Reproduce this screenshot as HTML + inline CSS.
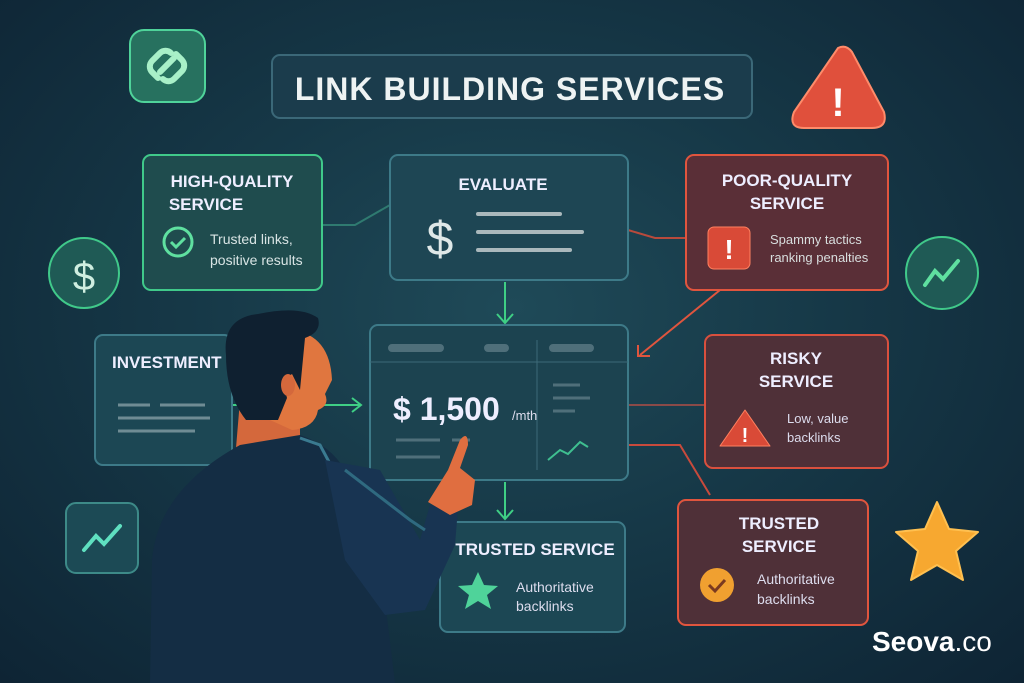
<!DOCTYPE html>
<html><head><meta charset="utf-8"><style>
html,body{margin:0;padding:0}
body{width:1024px;height:683px;overflow:hidden;background:radial-gradient(ellipse at 50% 45%,#1f4a58 0%,#163847 45%,#0e2434 100%);font-family:"Liberation Sans",sans-serif}
svg{position:absolute;left:0;top:0}
text{font-family:"Liberation Sans",sans-serif}
</style></head><body>
<svg width="1024" height="683" viewBox="0 0 1024 683">
<g fill="none" stroke-width="2">
<path d="M322 225 L355 225 L390 205" stroke="#2f7a70"/>
<path d="M628 230 L655 238 L686 238" stroke="#b84a3c"/>
<path d="M505 282 L505 322" stroke="#3fcf85"/><path d="M497 314 L505 323 L513 314" stroke="#3fcf85"/>
<path d="M232 405 L360 405" stroke="#3fcf85"/><path d="M352 398 L361 405 L352 412" stroke="#3fcf85"/>
<path d="M720 290 L640 355" stroke="#e0553e"/><path d="M638 345 L638 356 L650 356" stroke="#e0553e"/>
<path d="M628 405 L705 405" stroke="#8a4a48"/>
<path d="M628 445 L680 445 L710 495" stroke="#c84a3c"/>
<path d="M505 482 L505 518" stroke="#3fcf85"/><path d="M497 510 L505 519 L513 510" stroke="#3fcf85"/>
</g>
<rect x="130" y="30" width="75" height="72" rx="14" fill="#27715f" stroke="#4fd39a" stroke-width="2"/>
<g fill="none" stroke="#a8f0c8" stroke-width="6" stroke-linecap="round"><path d="M158 78 l-6 -6 a8 8 0 0 1 0-11 l8-8 a8 8 0 0 1 11 0"/><path d="M176 54 l6 6 a8 8 0 0 1 0 11 l-8 8 a8 8 0 0 1 -11 0"/><path d="M160 72 l14 -14"/></g>
<rect x="272" y="55" width="480" height="63" rx="8" fill="#1b3c4c" stroke="#3b6878" stroke-width="2"/>
<text x="510" y="100" font-size="32" font-weight="bold" fill="#eef3f3" text-anchor="middle" letter-spacing="1">LINK BUILDING SERVICES</text>
<path d="M838 48 Q846 44 852 52 L884 112 Q888 128 872 128 L804 128 Q788 128 794 112 Z" fill="#e0503c" stroke="#ff8b6a" stroke-width="2"/>
<text x="838" y="116" font-size="40" font-weight="bold" fill="#fff" text-anchor="middle">!</text>
<rect x="143" y="155" width="179" height="135" rx="8" fill="#1f4c4e" stroke="#40c98a" stroke-width="2"/>
<text x="232" y="187" font-size="17" font-weight="bold" fill="#eef" text-anchor="middle">HIGH-QUALITY</text>
<text x="206" y="210" font-size="17" font-weight="bold" fill="#eef" text-anchor="middle">SERVICE</text>
<circle cx="178" cy="242" r="14" fill="none" stroke="#5fe0a0" stroke-width="3"/>
<path d="M171 242 l5 5 l9-9" fill="none" stroke="#5fe0a0" stroke-width="3"/>
<text x="210" y="244" font-size="14" fill="#d8e4e4">Trusted links,</text>
<text x="210" y="265" font-size="14" fill="#d8e4e4">positive results</text>
<rect x="390" y="155" width="238" height="125" rx="8" fill="#1e4654" stroke="#3d7a88" stroke-width="2"/>
<text x="503" y="190" font-size="17" font-weight="bold" fill="#eef" text-anchor="middle">EVALUATE</text>
<text x="440" y="255" font-size="48" fill="#dfe8e8" text-anchor="middle">$</text>
<g stroke="#aab8bc" stroke-width="4" stroke-linecap="round"><path d="M478 214 H560"/><path d="M478 232 H582"/><path d="M478 250 H570"/></g>
<rect x="686" y="155" width="202" height="135" rx="8" fill="#5a2f37" stroke="#e0553e" stroke-width="2"/>
<text x="787" y="186" font-size="17" font-weight="bold" fill="#eef" text-anchor="middle">POOR-QUALITY</text>
<text x="787" y="209" font-size="17" font-weight="bold" fill="#eef" text-anchor="middle">SERVICE</text>
<rect x="708" y="227" width="42" height="42" rx="6" fill="#d94a37" stroke="#ff8060"/>
<text x="729" y="259" font-size="28" font-weight="bold" fill="#fff" text-anchor="middle">!</text>
<text x="770" y="244" font-size="13" fill="#d8dede">Spammy tactics</text>
<text x="770" y="262" font-size="13" fill="#d8dede">ranking penalties</text>
<circle cx="84" cy="273" r="35" fill="#1f5a55" stroke="#40c98a" stroke-width="2"/>
<text x="84" y="290" font-size="40" fill="#cfeee0" text-anchor="middle">$</text>
<circle cx="942" cy="273" r="36" fill="#1f5a55" stroke="#40c98a" stroke-width="2"/>
<path d="M925 285 l10-14 l8 8 l15-18" fill="none" stroke="#5fe0a0" stroke-width="4" stroke-linecap="round"/>
<rect x="95" y="335" width="137" height="130" rx="8" fill="#1c4754" stroke="#3d7a88" stroke-width="2"/>
<text x="112" y="368" font-size="17" font-weight="bold" fill="#eef">INVESTMENT</text>
<g stroke="#6f8c94" stroke-width="3"><path d="M118 405 H150 M160 405 H205 M118 418 H210 M118 431 H195"/></g>
<rect x="370" y="325" width="258" height="155" rx="8" fill="#1c4350" stroke="#3d7a88" stroke-width="2"/>
<path d="M370 362 H628" stroke="#3d6a78"/>
<g stroke="#4f6f7a" stroke-width="8" stroke-linecap="round"><path d="M392 348 H440 M488 348 H505 M553 348 H590"/></g>
<path d="M537 340 V470" stroke="#3d6a78"/>
<text x="393" y="420" font-size="32" font-weight="bold" fill="#eef">$ 1,500</text>
<text x="512" y="420" font-size="13" fill="#dde">/mth</text>
<g stroke="#4f6f7a" stroke-width="3"><path d="M396 440 H440 M452 440 H470 M396 457 H440 M553 385 H580 M553 398 H590 M553 411 H575"/></g>
<path d="M548 460 l12-10 l8 4 l12-12 l8 5" fill="none" stroke="#3fbf90" stroke-width="2"/>
<rect x="705" y="335" width="183" height="133" rx="8" fill="#4f3038" stroke="#d9503e" stroke-width="2"/>
<text x="796" y="364" font-size="17" font-weight="bold" fill="#eef" text-anchor="middle">RISKY</text>
<text x="796" y="387" font-size="17" font-weight="bold" fill="#eef" text-anchor="middle">SERVICE</text>
<path d="M745 410 L770 446 L720 446 Z" fill="#d94a37" stroke="#ff8060" stroke-linejoin="round"/>
<text x="745" y="442" font-size="20" font-weight="bold" fill="#fff" text-anchor="middle">!</text>
<text x="787" y="423" font-size="13" fill="#dde">Low, value</text>
<text x="787" y="442" font-size="13" fill="#dde">backlinks</text>
<rect x="440" y="522" width="185" height="110" rx="8" fill="#1c4754" stroke="#3d7a88" stroke-width="2"/>
<text x="535" y="555" font-size="17" font-weight="bold" fill="#eef" text-anchor="middle">TRUSTED SERVICE</text>
<path d="M478 572 l6 13 l14 1 l-11 9 l4 14 l-13 -8 l-13 8 l4-14 l-11-9 l14-1 Z" fill="#4fd39a"/>
<text x="516" y="592" font-size="14" fill="#dde">Authoritative</text>
<text x="516" y="611" font-size="14" fill="#dde">backlinks</text>
<rect x="678" y="500" width="190" height="125" rx="8" fill="#4f3038" stroke="#e0553e" stroke-width="2"/>
<text x="779" y="529" font-size="17" font-weight="bold" fill="#eef" text-anchor="middle">TRUSTED</text>
<text x="779" y="552" font-size="17" font-weight="bold" fill="#eef" text-anchor="middle">SERVICE</text>
<circle cx="717" cy="585" r="17" fill="#f0a030"/>
<path d="M709 585 l6 6 l10-11" fill="none" stroke="#7a3a20" stroke-width="3"/>
<text x="757" y="584" font-size="14" fill="#dde">Authoritative</text>
<text x="757" y="604" font-size="14" fill="#dde">backlinks</text>
<rect x="66" y="503" width="72" height="70" rx="10" fill="#1c4a55" stroke="#3d8a88" stroke-width="2"/>
<path d="M84 550 l12-14 l8 8 l16-18" fill="none" stroke="#5fe0c0" stroke-width="4" stroke-linecap="round"/>
<path d="M937 502 l12 27 l29 3 l-22 19 l7 29 l-26-15 l-26 15 l7-29 l-22-19 l29-3 Z" fill="#f7a830" stroke="#ffc050" stroke-width="2" stroke-linejoin="round"/>
<text x="872" y="651" font-size="28" font-weight="bold" fill="#fff">Seova<tspan font-weight="normal">.co</tspan></text>
<!-- man -->
<path d="M240 400 L300 400 L300 448 L236 448 Z" fill="#d4683c"/>
<path d="M150 683 L152 560 Q158 490 240 445 L300 435 Q330 445 345 470 L380 560 L395 683 Z" fill="#142d44"/>
<path d="M300 438 L320 445 L360 520" fill="none" stroke="#3a7a90" stroke-width="3"/>
<path d="M325 460 L380 470 L420 540 L430 505 L458 508 L455 545 L425 610 L385 615 L345 560 Z" fill="#183452"/>
<path d="M345 470 L410 520 L425 530" fill="none" stroke="#2f6a80" stroke-width="3"/>
<path d="M428 502 L448 470 L460 440 Q468 430 468 445 L460 468 L475 480 L472 505 L450 515 Z" fill="#e06e40"/>
<path d="M292 330 Q330 335 332 380 L325 394 Q330 405 318 410 Q315 428 292 430 L270 420 Z" fill="#e0763f"/>
<path d="M226 355 Q222 318 258 314 Q300 305 318 318 Q322 332 305 338 L300 390 L292 374 Q282 380 287 398 L278 420 L246 420 Q226 395 226 355 Z" fill="#0f2030"/>
<ellipse cx="288" cy="385" rx="7" ry="11" fill="#d4683c"/>
</svg>
</body></html>
